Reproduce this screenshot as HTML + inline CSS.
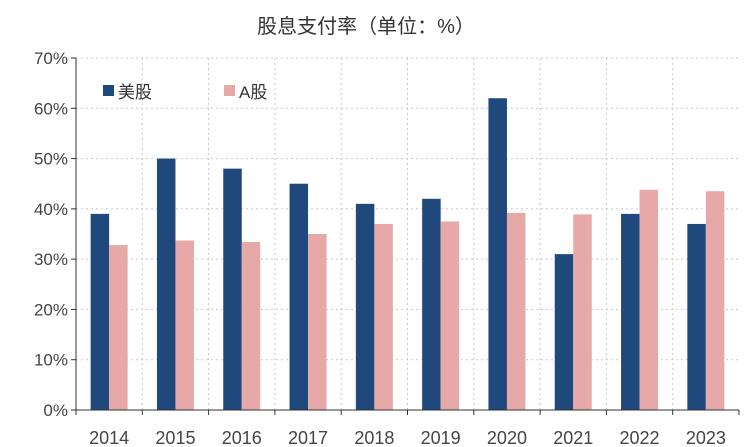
<!DOCTYPE html>
<html><head><meta charset="utf-8"><style>
body{margin:0;background:#fff;}
svg{display:block;font-family:"Liberation Sans","Noto Sans CJK SC",sans-serif;}
</style></head><body>
<svg id="chart" width="744" height="447">
<text x="366" y="33" text-anchor="middle" font-size="20" fill="#333">股息支付率（单位：%）</text>
<g id="grid"></g><g id="bars"></g><g id="axes"></g>
<g>
<rect x="103" y="85" width="11" height="11" fill="#1f497d"/>
<text x="118" y="98" font-size="17" fill="#333">美股</text>
<rect x="224" y="85" width="11" height="11" fill="#e6a9a8"/>
<text x="239" y="98" font-size="17" fill="#333">A股</text>
</g>
</svg>
<script>
const categories=["2014","2015","2016","2017","2018","2019","2020","2021","2022","2023"];
const usValues=[39,50,48,45,41,42,62,31,39,37];
const aValues=[32.8,33.7,33.4,35,37,37.5,39.2,38.9,43.8,43.5];
const yTicks=[0,10,20,30,40,50,60,70];
const yTickLabels=["0%","10%","20%","30%","40%","50%","60%","70%"];
const NS="http://www.w3.org/2000/svg";
const x0=76,x1=739,y0=410,yTop=58,yMax=70;
const band=(x1-x0)/categories.length;
const y=v=>y0-(v/yMax)*(y0-yTop);
const xb=i=>x0+i*band;
function mk(tag,attrs,parent){const e=document.createElementNS(NS,tag);for(const k in attrs)e.setAttribute(k,attrs[k]);document.getElementById(parent).appendChild(e);return e;}
yTicks.forEach((t,i)=>{
 if(t>0){const g=mk('line',{x1:x0,x2:x1,y1:y(t),y2:y(t),stroke:'#c8c8c8','stroke-dasharray':'2,3'},'grid');
 
 }
 const tk=mk('line',{x1:x0-5,x2:x0,y1:y(t),y2:y(t),stroke:'#333'},'axes');
 
 
 const l=mk('text',{x:x0-8,y:y(t)+6,'text-anchor':'end','font-size':'17',fill:'#444'},'axes');
 l.textContent=yTickLabels[i];
 
 
});
categories.forEach((c,i)=>{
 if(i>0){const g=mk('line',{x1:xb(i),x2:xb(i),y1:yTop,y2:y0,stroke:'#c8c8c8','stroke-dasharray':'2,3'},'grid');
 
 }
 const tk=mk('line',{x1:xb(i),x2:xb(i),y1:y0,y2:y0+5,stroke:'#333'},'axes');
 
 
 const bx=xb(i)+(band-37)/2;
 const b1=mk('rect',{x:bx,y:y(usValues[i]),width:18.5,height:y0-y(usValues[i]),fill:'#1f497d'},'bars');
 
 
 const b2=mk('rect',{x:bx+18.5,y:y(aValues[i]),width:18.5,height:y0-y(aValues[i]),fill:'#e6a9a8'},'bars');
 
 
 const l=mk('text',{x:xb(i)+band/2,y:444,'text-anchor':'middle','font-size':'18',fill:'#444'},'axes');
 l.textContent=c;
 
 
});
const ya=mk('line',{x1:x0,x2:x0,y1:yTop,y2:y0,stroke:'#333'},'axes');


const xa=mk('line',{x1:x0-5,x2:x1,y1:y0,y2:y0,stroke:'#333'},'axes');


const te=mk('line',{x1:x1,x2:x1,y1:y0,y2:y0+5,stroke:'#333'},'axes');


</script>
</body></html>
